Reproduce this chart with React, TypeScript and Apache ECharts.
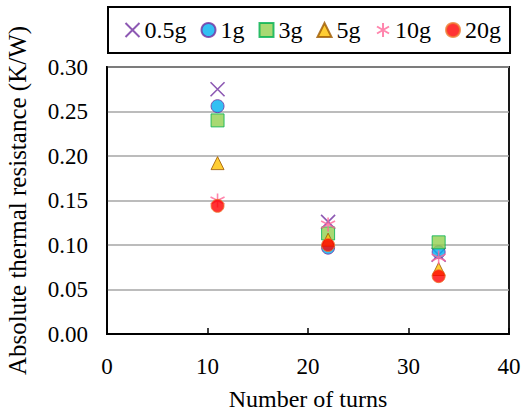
import React, { useEffect, useRef } from "react";
import * as echarts from "echarts";

const turns = [11, 22, 33];
const seriesNames = ["0.5g", "1g", "3g", "5g", "10g", "20g"];
const r05 = [0.275, 0.126, 0.089];
const r1 = [0.256, 0.097, 0.092];
const r3 = [0.240, 0.113, 0.103];
const r5 = [0.192, 0.106, 0.073];
const r10 = [0.150, 0.123, 0.086];
const r20 = [0.144, 0.100, 0.065];
const yTicks = ["0.00", "0.05", "0.10", "0.15", "0.20", "0.25", "0.30"];

const CROSS = "path://M0,0L10,10M10,0L0,10";
const STAR = "path://M5,0L5,10M0.7,2.5L9.3,7.5M9.3,2.5L0.7,7.5";

export default function App() {
  const ref = useRef<HTMLDivElement>(null);
  useEffect(() => {
    if (!ref.current) return;
    const chart = echarts.init(ref.current, undefined, { renderer: "svg" });
    const font = "Liberation Serif";
    const pair = (vals: number[]) => turns.map((t, i) => [t, vals[i]]);
    const styles = [
      { symbol: CROSS, size: 14, item: { color: "none", borderColor: "#7030A0", borderWidth: 1.6 } },
      { symbol: "circle", size: 13, item: { color: "#00B0F0", borderColor: "#7030A0", borderWidth: 1 } },
      { symbol: "rect", size: 13, item: { color: "#92D050", borderColor: "#00B050", borderWidth: 1 } },
      { symbol: "triangle", size: 13, item: { color: "#FFC000", borderColor: "#9C5700", borderWidth: 1 } },
      { symbol: STAR, size: 14, item: { color: "none", borderColor: "#FF6699", borderWidth: 1.6 } },
      { symbol: "circle", size: 13, item: { color: "#FF0000", borderColor: "#ED7D31", borderWidth: 1 } },
    ];
    const data = [r05, r1, r3, r5, r10, r20];
    chart.setOption({
      animation: false,
      backgroundColor: "#fff",
      textStyle: { fontFamily: font },
      grid: {
        left: 107, right: 14, top: 67, bottom: 78,
        outerBoundsMode: "none", containLabel: false,
        show: true, borderColor: "#000", borderWidth: 1.8, backgroundColor: "transparent",
      },
      legend: {
        data: seriesNames.map((n, i) => ({ name: n, icon: styles[i].symbol })),
        left: 108, top: 7,
        padding: [11, 9, 11, 15],
        borderColor: "#000", borderWidth: 2,
        itemGap: 14, itemWidth: 14, itemHeight: 14,
        textStyle: { fontFamily: font, fontSize: 24, color: "#000", padding: [0, 0, 0, 0] },
      },
      xAxis: {
        type: "value", min: 0, max: 40, interval: 10,
        name: "Number of turns", nameLocation: "middle", nameGap: 53,
        nameTextStyle: { fontFamily: font, fontSize: 24, color: "#000" },
        axisLine: { show: true, lineStyle: { color: "#000", width: 1.8 } },
        axisTick: { show: true, inside: true, length: 6, lineStyle: { color: "#000", width: 1.5 } },
        axisLabel: { fontFamily: font, fontSize: 23, color: "#000", margin: 21 },
        splitLine: { show: false },
      },
      yAxis: {
        type: "value", min: 0, max: 0.3, interval: 0.05,
        name: "Absolute thermal resistance (K/W)", nameLocation: "middle", nameGap: 77,
        nameTextStyle: { fontFamily: font, fontSize: 25, color: "#000" },
        axisLine: { show: true, lineStyle: { color: "#000", width: 1.8 } },
        axisTick: { show: false },
        axisLabel: {
          fontFamily: font, fontSize: 23, color: "#000", margin: 19,
          formatter: (v: number) => yTicks[Math.round(v / 0.05)] ?? v.toFixed(2),
        },
        splitLine: { show: true, lineStyle: { color: "#A6A6A6", width: 1.5 } },
      },
      series: seriesNames.map((n, i) => ({
        name: n,
        type: "scatter",
        symbol: styles[i].symbol,
        symbolSize: styles[i].size,
        itemStyle: styles[i].item,
        data: pair(data[i]),
      })),
    });
    return () => chart.dispose();
  }, []);
  return <div ref={ref} style={{ position: "absolute", left: 0, top: 0, width: 523, height: 412 }} />;
}
